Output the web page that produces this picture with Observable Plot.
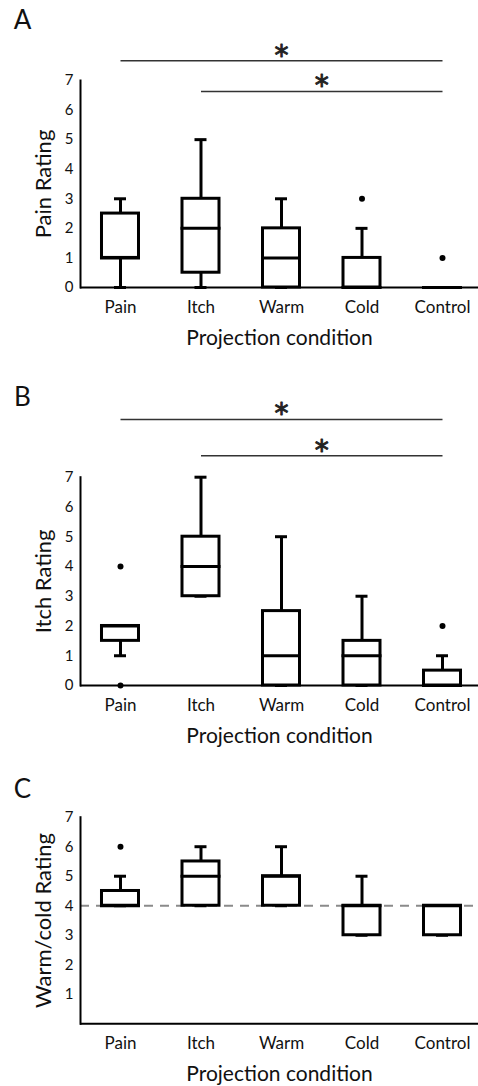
<!DOCTYPE html>
<html><head><meta charset="utf-8">
<script src="https://cdn.jsdelivr.net/npm/d3@7"></script>
<script src="https://cdn.jsdelivr.net/npm/@observablehq/plot@0.6"></script>
<style>
body{margin:0;background:#fff;}
#chart svg{display:block;}
</style></head><body><div id="chart"></div>
<script>
const categories = ["Pain", "Itch", "Warm", "Cold", "Control"];
const ticksAB = [0, 1, 2, 3, 4, 5, 6, 7];
const ticksC = [1, 2, 3, 4, 5, 6, 7];
const xTitle = "Projection condition";

// Panel A: Pain rating
const painLow    = [0,   0,   0, 0, 0];
const painQ1     = [1,   0.5, 0, 0, 0];
const painMedian = [1,   2,   1, 0, 0];
const painQ3     = [2.5, 3,   2, 1, 0];
const painHigh   = [3,   5,   3, 2, 0];
const painOutliers = [{cat: "Cold", value: 3}, {cat: "Control", value: 1}];
const painSig = [{from: "Pain", to: "Control", y: 7.67}, {from: "Itch", to: "Control", y: 6.63}];

// Panel B: Itch rating
const itchLow    = [1,   3, 0,   0,   0];
const itchQ1     = [1.5, 3, 0,   0,   0];
const itchMedian = [2,   4, 1,   1,   0];
const itchQ3     = [2,   5, 2.5, 1.5, 0.5];
const itchHigh   = [2,   7, 5,   3,   1];
const itchOutliers = [{cat: "Pain", value: 4}, {cat: "Pain", value: 0}, {cat: "Control", value: 2}];
const itchSig = [{from: "Pain", to: "Control", y: 8.94}, {from: "Itch", to: "Control", y: 7.72}];

// Panel C: Warm/cold rating
const tempLow    = [4,   4,   4, 3, 3];
const tempQ1     = [4,   4,   4, 3, 3];
const tempMedian = [4,   5,   5, 4, 4];
const tempQ3     = [4.5, 5.5, 5, 4, 4];
const tempHigh   = [5,   6,   6, 5, 4];
const tempOutliers = [{cat: "Pain", value: 6}];
const tempNeutral = [4];

function panel({letter, label, low, q1, med, q3, high, outliers, sig, ticks, neutral, height, marginTop, marginBottom, letterY}) {
  const rows = categories.map((c, i) => ({cat: c, low: low[i], q1: q1[i], med: med[i], q3: q3[i], high: high[i]}));
  const marks = [];
  if (neutral) marks.push(Plot.ruleY(neutral, {stroke: "#8a8a8a", strokeWidth: 2, strokeDasharray: "9,7"}));
  marks.push(
    Plot.ruleX(rows, {x: "cat", y1: "low", y2: "q1", stroke: "black", strokeWidth: 3}),
    Plot.ruleX(rows, {x: "cat", y1: "q3", y2: "high", stroke: "black", strokeWidth: 3}),
    Plot.tickY(rows, {x: "cat", y: "low", inset: 12.5, stroke: "black", strokeWidth: 3}),
    Plot.tickY(rows, {x: "cat", y: "high", inset: 12.5, stroke: "black", strokeWidth: 3}),
    Plot.barY(rows, {x: "cat", y1: "q1", y2: "q3", fill: "white", stroke: "black", strokeWidth: 3}),
    Plot.tickY(rows, {x: "cat", y: "med", stroke: "black", strokeWidth: 3, strokeLinecap: "square"}),
    Plot.dot(outliers, {x: "cat", y: "value", r: 3, fill: "black", stroke: null}),
    Plot.ruleY([0], {stroke: "black", strokeWidth: 2}),
    Plot.frame({anchor: "left", stroke: "black", strokeWidth: 2}),
    Plot.axisY({ticks, tickFormat: "d", tickSize: 0, tickPadding: 7, fontSize: 15, label: null}),
    Plot.axisX({tickSize: 0, tickPadding: 13, fontSize: 17, label: null}),
    Plot.text([label], {frameAnchor: "left", rotate: -90, dx: -30, textAnchor: "middle", lineAnchor: "bottom", fontSize: 22, text: d => d}),
    Plot.text([xTitle], {frameAnchor: "bottom", dy: 57, textAnchor: "middle", lineAnchor: "bottom", fontSize: 21, text: d => d}),
    Plot.text([letter], {frameAnchor: "top-left", dx: -58, dy: letterY - marginTop, textAnchor: "middle", lineAnchor: "middle", fontSize: 26, text: d => d})
  );
  if (sig) {
    marks.push(
      Plot.link(sig, {x1: "from", x2: "to", y1: "y", y2: "y", stroke: "#333", strokeWidth: 1.6}),
      Plot.text(sig, {
        x: "from", y: "y", text: () => "*", fontSize: 28, fontFamily: "DejaVu Sans", fill: "#222",
        stroke: "#222", strokeWidth: 0.9, lineAnchor: "bottom", dy: 4,
        render(index, scales, values, dimensions, context, next) {
          const X = Float64Array.from(sig, d => (scales.x(d.from) + scales.x(d.to)) / 2);
          return next(index, scales, {...values, x: X}, dimensions, context);
        }
      })
    );
  }
  return Plot.plot({
    width: 478,
    height,
    marginLeft: 80,
    marginRight: 0,
    marginTop,
    marginBottom,
    style: {fontFamily: "Lato, 'Open Sans', sans-serif", color: "#111", background: "white"},
    x: {type: "band", domain: categories, range: [80, 482], paddingInner: 0.5404, paddingOuter: 0.267, round: false, axis: null},
    y: {domain: [0, 7], axis: null},
    marks
  });
}

const chart = document.getElementById("chart");
chart.append(panel({letter: "A", label: "Pain Rating", low: painLow, q1: painQ1, med: painMedian, q3: painQ3, high: painHigh,
  outliers: painOutliers, sig: painSig, ticks: ticksAB, height: 360, marginTop: 80, marginBottom: 73, letterY: 20}));
chart.append(panel({letter: "B", label: "Itch Rating", low: itchLow, q1: itchQ1, med: itchMedian, q3: itchQ3, high: itchHigh,
  outliers: itchOutliers, sig: itchSig, ticks: ticksAB, height: 390, marginTop: 116.7, marginBottom: 65, letterY: 37}));
chart.append(panel({letter: "C", label: "Warm/cold Rating", low: tempLow, q1: tempQ1, med: tempMedian, q3: tempQ3, high: tempHigh,
  outliers: tempOutliers, ticks: ticksC, neutral: tempNeutral, height: 336, marginTop: 66.7, marginBottom: 62.7, letterY: 39}));
</script></body></html>
